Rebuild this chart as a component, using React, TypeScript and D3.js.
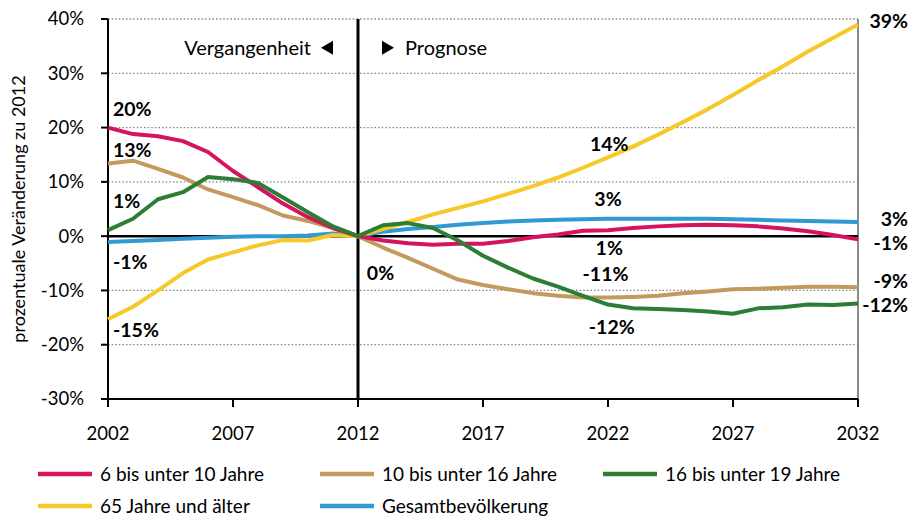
import React from 'react'
import * as d3 from 'd3'

const years = d3.range(2002, 2033)

const kids6to10 = [20, 18.8, 18.4, 17.5, 15.5, 12, 9, 6, 3.5, 1.5, 0, -0.8, -1.3, -1.6, -1.4, -1.4, -0.9, -0.2, 0.3, 1, 1.1, 1.5, 1.8, 2, 2.1, 2, 1.8, 1.4, 0.9, 0.2, -0.6]
const kids10to16 = [13.4, 13.9, 12.4, 10.8, 8.6, 7.2, 5.7, 3.8, 2.8, 1.5, 0, -2.1, -4, -6, -8, -9, -9.8, -10.5, -11, -11.3, -11.3, -11.2, -11, -10.5, -10.2, -9.8, -9.7, -9.5, -9.3, -9.3, -9.4]
const teens16to19 = [1.1, 3.2, 6.8, 8.1, 10.9, 10.5, 9.8, 7.1, 4.4, 1.8, 0, 2, 2.4, 1.5, -0.8, -3.6, -5.8, -7.8, -9.3, -11, -12.6, -13.3, -13.4, -13.6, -13.9, -14.3, -13.3, -13.1, -12.6, -12.7, -12.4]
const seniors65 = [-15.3, -13, -10, -6.8, -4.3, -3, -1.7, -0.7, -0.8, 0.2, 0, 1.3, 2.6, 4, 5.2, 6.4, 7.8, 9.2, 10.8, 12.6, 14.5, 16.5, 18.7, 21, 23.4, 26, 28.7, 31.3, 34, 36.5, 39]
const total = [-1.1, -0.9, -0.7, -0.5, -0.3, -0.1, 0, 0, 0.1, 0.5, 0, 0.8, 1.3, 1.7, 2.1, 2.4, 2.7, 2.9, 3, 3.1, 3.2, 3.2, 3.2, 3.2, 3.2, 3.1, 3, 2.9, 2.8, 2.7, 2.6]

const series = [
  { name: '6 bis unter 10 Jahre', color: '#d5135e', values: kids6to10 },
  { name: '10 bis unter 16 Jahre', color: '#c39a5e', values: kids10to16 },
  { name: '16 bis unter 19 Jahre', color: '#2e7d34', values: teens16to19 },
  { name: '65 Jahre und älter', color: '#f4c928', values: seniors65 },
  { name: 'Gesamtbevölkerung', color: '#2f9bd0', values: total },
]
// draw order: blue below, yellow above
const drawOrder = [4, 3, 1, 0, 2]

const yTicks = [40, 30, 20, 10, 0, -10, -20, -30]
const xTicks = [2002, 2007, 2012, 2017, 2022, 2027, 2032]

// label text, anchor year, anchor value
const leftLabels = [
  { text: '20%', year: 2002.2, value: 23.4 },
  { text: '13%', year: 2002.2, value: 15.8 },
  { text: '1%', year: 2002.2, value: 6.4 },
  { text: '-1%', year: 2002.2, value: -4.8 },
  { text: '-15%', year: 2002.2, value: -17.3 },
]
const midLabels = [
  { text: '0%', year: 2012.9, value: -6.8 },
  { text: '14%', year: 2022.05, value: 16.9 },
  { text: '3%', year: 2022.0, value: 6.8 },
  { text: '1%', year: 2022.05, value: -2.2 },
  { text: '-11%', year: 2021.9, value: -7.0 },
  { text: '-12%', year: 2022.15, value: -16.8 },
]
const rightLabels = [
  { text: '39%', value: 39.6 },
  { text: '3%', value: 3.1 },
  { text: '-1%', value: -1.3 },
  { text: '-9%', value: -8.3 },
  { text: '-12%', value: -12.7 },
]

const W = 911
const H = 520
const font = 'Lato, "Open Sans", sans-serif'

export default function App() {
  const x = d3.scaleLinear().domain([2002, 2032]).range([108, 858])
  const y = d3.scaleLinear().domain([-30, 40]).range([399, 19])
  const line = d3.line<number>().x((_, i) => x(years[i])).y(d => y(d))

  const legendCols = [38, 320, 603]
  const legendRows = [474, 506]
  const arrowY = y(34.7)

  return (
    <svg width={W} height={H} style={{ position: 'absolute', left: 0, top: 0, background: '#fff' }} fontFamily={font}>
      {/* grid */}
      {yTicks.filter(t => t !== 0 && t !== -30).map(t => (
        <line key={t} x1={x(2002)} x2={x(2032)} y1={y(t)} y2={y(t)} stroke="#8a8a8a" strokeWidth={1.3} strokeDasharray="1.6,2" />
      ))}
      <line x1={x(2032)} x2={x(2032)} y1={y(40)} y2={y(-30)} stroke="#8a8a8a" strokeWidth={2} />
      {/* axes */}
      <line x1={x(2002)} x2={x(2002)} y1={y(40)} y2={y(-30)} stroke="#000" strokeWidth={2} />
      <line x1={x(2002)} x2={x(2032)} y1={y(-30)} y2={y(-30)} stroke="#000" strokeWidth={2} />
      {yTicks.map(t => (
        <g key={t}>
          <line x1={x(2002) - 7} x2={x(2002)} y1={y(t)} y2={y(t)} stroke="#000" strokeWidth={2} />
          <text x={84} y={y(t)} dy="0.35em" textAnchor="end" fontSize={18.5}>{t}%</text>
        </g>
      ))}
      {xTicks.map(t => (
        <g key={t}>
          <line x1={x(t)} x2={x(t)} y1={y(-30)} y2={y(-30) + 8} stroke="#000" strokeWidth={2} />
          <text x={x(t)} y={434} dy="0.35em" textAnchor="middle" fontSize={18.5}>{t}</text>
        </g>
      ))}
      <line x1={x(2002)} x2={x(2032)} y1={y(0)} y2={y(0)} stroke="#000" strokeWidth={2.5} />
      <line x1={x(2012)} x2={x(2012)} y1={y(40)} y2={y(-30)} stroke="#000" strokeWidth={3} />

      <text transform={`translate(19,${(y(40) + y(-30)) / 2}) rotate(-90)`} dy="0.35em" textAnchor="middle" fontSize={18}>
        prozentuale Veränderung zu 2012
      </text>

      <text x={311} y={arrowY} dy="0.35em" textAnchor="end" fontSize={20}>Vergangenheit</text>
      <path d={`M321,${arrowY} L333,${arrowY - 7} L333,${arrowY + 7} Z`} fill="#000" />
      <path d={`M394,${arrowY} L382,${arrowY - 7} L382,${arrowY + 7} Z`} fill="#000" />
      <text x={405} y={arrowY} dy="0.35em" fontSize={20}>Prognose</text>

      {drawOrder.map(i => (
        <path key={series[i].name} d={line(series[i].values) ?? ''} fill="none" stroke={series[i].color} strokeWidth={4} strokeLinejoin="round" />
      ))}

      {leftLabels.map((l, i) => (
        <text key={'l' + i} x={x(l.year)} y={y(l.value)} dy="0.35em" fontSize={19.5} fontWeight="bold">{l.text}</text>
      ))}
      {midLabels.map((l, i) => (
        <text key={'m' + i} x={x(l.year)} y={y(l.value)} dy="0.35em" textAnchor="middle" fontSize={19.5} fontWeight="bold">{l.text}</text>
      ))}
      {rightLabels.map((l, i) => (
        <text key={'r' + i} x={908} y={y(l.value)} dy="0.35em" textAnchor="end" fontSize={19.5} fontWeight="bold">{l.text}</text>
      ))}

      {series.map((s, i) => {
        const lx = legendCols[i % 3]
        const ly = legendRows[Math.floor(i / 3)]
        return (
          <g key={s.name}>
            <line x1={lx} x2={lx + 54} y1={ly} y2={ly} stroke={s.color} strokeWidth={4.5} />
            <text x={lx + 62} y={ly} dy="0.35em" fontSize={19}>{s.name}</text>
          </g>
        )
      })}
    </svg>
  )
}
